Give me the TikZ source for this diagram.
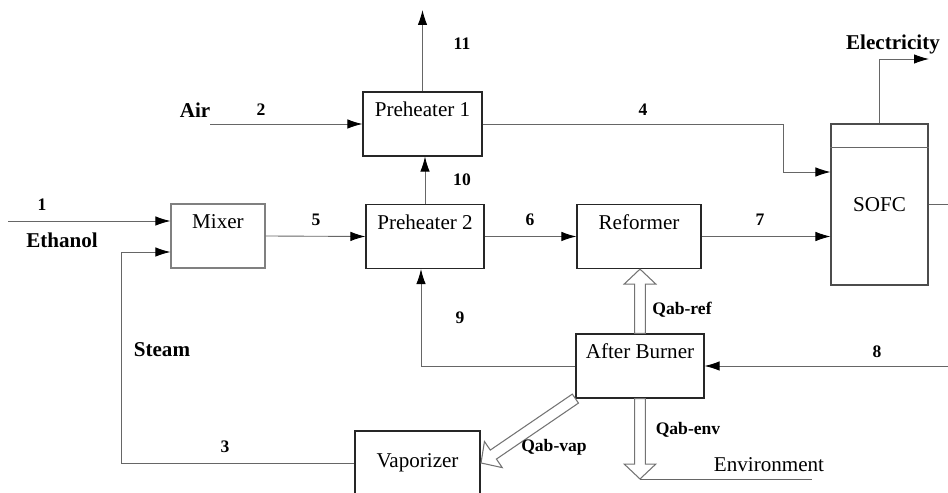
\documentclass[tikz,border=0pt]{standalone}
\usepackage{fontspec}
\setmainfont{Liberation Serif}
\usetikzlibrary{arrows.meta,calc}

\tikzset{
	unit/.style={draw=black!85, line width=0.7pt, inner sep=0pt,
		text height=0.5cm, text depth=0.78cm, font=\fontsize{12}{14}\selectfont},
	flow/.style={draw=black!60, line width=0.5pt, -{Latex[length=3mm,width=1.9mm,black]}},
	pipe/.style={draw=black!60, line width=0.5pt},
	num/.style={font=\bfseries\fontsize{10}{12}\selectfont},
	tag/.style={font=\bfseries\fontsize{12}{14}\selectfont},
	heat/.style={draw=black!55, fill=white, line width=0.6pt,
		to path={let \p1=(\tikztostart), \p2=(\tikztotarget),
			\n1={atan2(\y2-\y1,\x2-\x1)}, \n2={veclen(\x2-\x1,\y2-\y1)} in
			{[shift={(\p1)}, rotate=\n1]
			(0pt,-3.1pt) -- (\n2-8.5pt,-3.1pt) -- (\n2-8.5pt,-9pt) -- (\n2,0pt)
			-- (\n2-8.5pt,9pt) -- (\n2-8.5pt,3.1pt) -- (0pt,3.1pt) -- cycle}}}
}

\begin{document}
\begin{tikzpicture}[x=0.02cm, y=-0.02cm]
	\useasboundingbox (0,0) rectangle (948,493);
	\clip (0,0) rectangle (948,493);

	% units
	\node[unit, draw=black!50, minimum width=1.88cm] (mix) at (218,236) {Mixer};
	\node[unit, minimum width=2.38cm] (ph1) at (422.5,124) {Preheater 1};
	\node[unit, minimum width=2.36cm] (ph2) at (425,236.5) {Preheater 2};
	\node[unit, minimum width=2.48cm] (ref) at (639,236.5) {Reformer};
	\node[unit, minimum width=2.56cm] (ab) at (640,366) {After Burner};
	\node[unit, minimum width=2.5cm, text height=0.74cm, text depth=0.86cm] (vap) at (417.5,471) {Vaporizer};
	\node[draw=black!70, line width=0.6pt, inner sep=0pt, minimum width=1.94cm, minimum height=3.22cm,
		font=\fontsize{12}{14}\selectfont] (sofc) at (879.5,204.5) {SOFC};
	\draw[pipe] ([yshift=-0.48cm]sofc.north west) -- ([yshift=-0.48cm]sofc.north east);

	% bends and free ends
	\coordinate (eth) at (8,221);
	\coordinate (st1) at (121,252);
	\coordinate (st2) at (121,463);
	\coordinate (air) at (210,124);
	\coordinate (c4) at (783,172);
	\coordinate (c8) at (955,366);
	\coordinate (c11) at (423,10);
	\coordinate (el) at (929,59);
	\coordinate (env) at (640,479);
	\coordinate (vq) at (481,463);

	% streams
	\draw[flow] (eth) -- (eth -| mix.west);
	\draw[flow] (st2 -| vap.west) -- (st2) -- (st1) -- (st1 -| mix.west);
	\draw[flow] (air) -- (air -| ph1.west);
	\draw[flow] (ph1.north) -- (ph1.north |- c11);
	\draw[flow] (ph1.east) -| (c4) -- (c4 -| sofc.west);
	\draw[flow] (ph2.north) -- (ph2.north |- ph1.south);
	\draw[flow] (mix.east) -- (ph2.west);
	\draw[flow] (ph2.east) -- (ref.west);
	\draw[flow] (ref.east) -- (ref.east -| sofc.west);
	\draw[flow] (c8) -- (c8 -| ab.east);
	\draw[flow] (ab.west) -| ([xshift=-0.08cm]ph2.south);
	\draw[flow] (sofc.north) |- (el);
	\draw[pipe] (sofc.east) -- ++(1cm,0);

	% heat
	\path[heat] (ab.north) to (ab.north |- ref.south);
	\path[heat] (ab.south) to (env);
	\path[heat] (ab.south west) to (vq);
	\draw[pipe] (env) -- (812,479);

	% labels
	\node[num] at (42,205) {1};
	\node[tag] at (62,240) {Ethanol};
	\node[tag] at (195,110) {Air};
	\node[num] at (261,110) {2};
	\node[num] at (462,44) {11};
	\node[tag] at (893,44) {Electricity};
	\node[num] at (643,110) {4};
	\node[num] at (462,180) {10};
	\node[num] at (316,220) {5};
	\node[num] at (530,220) {6};
	\node[num] at (760,220) {7};
	\node[tag] at (162,350) {Steam};
	\node[num] at (460,318) {9};
	\node[num] at (682,310) {Qab-ref};
	\node[num] at (877,352) {8};
	\node[num] at (225,447) {3};
	\node[num] at (554,447) {Qab-vap};
	\node[num] at (688,430) {Qab-env};
	\node[font=\fontsize{12}{14}\selectfont] at (769,465) {Environment};
\end{tikzpicture}
\end{document}
